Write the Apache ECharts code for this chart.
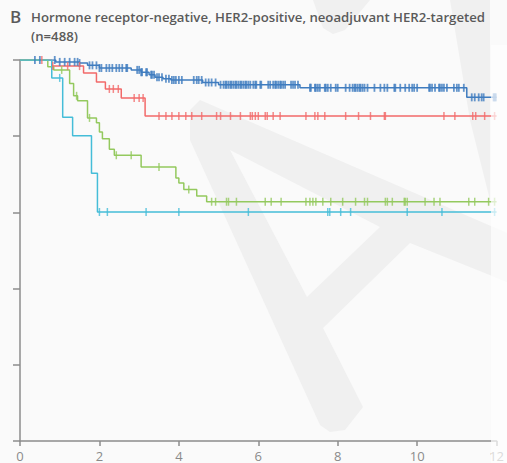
<!DOCTYPE html>
<html><head><meta charset="utf-8">
<script src="https://cdn.jsdelivr.net/npm/echarts/dist/echarts.min.js"></script>
<style>html,body{margin:0;padding:0;background:#fafafa}#c{width:507px;height:463px}</style>
</head><body><div id="c"></div>
<script>
// ---- data ----
const xTickLabels = ['0','2','4','6','8','10','12'];
const panelLetter = 'B';
const titleLine1 = 'Hormone receptor-negative, HER2-positive, neoadjuvant HER2-targeted';
const titleLine2 = '(n=488)';

// Kaplan-Meier steps [time (years), survival %]
const blueSteps = [[0,100],[0.9,99.5],[1.5,99.2],[1.7,98.6],[2.0,97.9],[2.8,97.4],[3.05,96.8],[3.25,96.1],[3.4,95.5],[3.6,95.1],[3.8,94.75],[4.6,94.1],[5.0,93.5],[7.05,92.7],[11.25,90.2],[12,90.2]];
const redSteps = [[0,100],[0.8,98.4],[1.6,96.6],[1.925,94.2],[2.15,92.4],[2.55,90.0],[3.15,85.3],[12,85.3]];
const greenSteps = [[0,100],[0.7,98.2],[0.85,97.4],[1.25,93.8],[1.35,90.6],[1.45,89.3],[1.7,84.8],[1.925,83.5],[2.0,81.1],[2.075,79.3],[2.25,76.6],[2.375,75.0],[3.05,71.9],[3.925,69.0],[4.0,67.7],[4.125,66.0],[4.45,64.3],[4.7,62.8],[12,62.8]];
const cyanSteps = [[0,100],[0.8,95.3],[1.075,85.0],[1.325,80.1],[1.8,70.3],[1.95,60.1],[12,60.1]];

// censoring times (years)
const blueCensor = [0.375,0.5,0.875,1.0,1.125,1.25,1.375,1.45,1.5,1.75,1.825,1.925,2.0,2.05,2.175,2.25,2.325,2.425,2.5,2.575,2.675,2.7,2.95,3.0,3.05,3.075,3.175,3.2,3.3,3.325,3.375,3.45,3.5,3.575,3.675,3.75,3.825,3.875,3.925,4.0,4.075,4.375,4.45,4.5,4.575,4.675,4.75,4.825,4.925,5.05,5.125,5.175,5.2,5.25,5.3,5.325,5.375,5.425,5.45,5.5,5.55,5.575,5.625,5.675,5.7,5.75,5.8,5.875,5.925,5.95,6.05,6.075,6.25,6.3,6.375,6.425,6.45,6.5,6.55,6.575,6.625,6.675,6.825,6.875,6.925,7.0,7.3,7.325,7.425,7.45,7.5,7.55,7.675,7.7,7.75,7.825,7.95,8.0,8.2,8.3,8.375,8.425,8.45,8.5,8.55,8.575,8.625,8.675,8.75,8.925,9.075,9.175,9.25,9.425,9.45,9.575,9.7,9.8,9.875,9.925,10.0,10.3,10.325,10.375,10.45,10.55,10.575,10.625,10.675,10.75,10.925,11.0,11.05,11.175,11.375,11.45,11.55,11.625,11.675,11.925,11.95,11.98];
const redCensor = [0.55,0.825,1.2,1.5,2.25,2.35,2.475,2.875,3.0,3.1,3.5,3.675,3.825,4.0,4.175,4.325,4.575,4.95,5.05,5.3,5.55,5.8,5.85,5.925,6.0,6.175,6.225,6.375,6.55,7.2,7.425,7.5,7.675,8.2,8.525,8.825,9.175,9.2,10.675,10.95,11.4,11.475,11.7,11.95];
const greenCensor = [1.05,1.425,1.75,2.425,2.8,3.5,4.25,4.825,4.925,5.2,5.25,5.45,6.175,6.325,6.575,7.2,7.3,7.375,7.45,7.625,7.825,8.125,8.45,8.675,8.75,9.2,9.25,9.375,9.675,9.7,9.75,10.2,10.425,10.575,11.3,11.45,11.8,11.95];
const cyanCensor = [1.0,2.0,2.2,3.175,4.0,5.75,7.75,7.8,8.075,8.325,9.75,10.625,11.95];

// ---- build ----
function stepAt(steps, t){ let v = steps[0][1]; for (const s of steps){ if (s[0] <= t) v = s[1]; else break; } return v; }
const groups = [
  {steps: blueSteps, cens: blueCensor, color: '#3f7cbf', w: 1.8},
  {steps: redSteps, cens: redCensor, color: '#f26a6a', w: 1.5},
  {steps: greenSteps, cens: greenCensor, color: '#94c95e', w: 1.5},
  {steps: cyanSteps, cens: cyanCensor, color: '#45bdd8', w: 1.5}
];
const series = [];
groups.forEach(g => {
  series.push({type:'line', step:'end', data:g.steps, showSymbol:false, silent:true,
    lineStyle:{color:g.color, width:1.5}, itemStyle:{color:g.color}, z:3});
  series.push({type:'scatter', data:g.cens.map(t => [t, stepAt(g.steps, t)]), symbol:'rect',
    symbolSize:[g.w, 8], itemStyle:{color:g.color}, silent:true, z:4});
});

const wm = '#f0f0f0', bg = '#fafafa';
const chart = echarts.init(document.getElementById('c'), null, {renderer:'svg'});
chart.setOption({
  backgroundColor: bg,
  animation: false,
  title: [
    {text: panelLetter, left: 10, top: 8, padding: 0, textStyle:{fontFamily:'Open Sans', fontSize:17, fontWeight:600, color:'#5a5a5a'}},
    {text: titleLine1 + '\n' + titleLine2, left: 31, top: 7, padding: 0, textStyle:{fontFamily:'Open Sans', fontSize:13.2, fontWeight:600, color:'#5a5a5a', lineHeight:19}}
  ],
  graphic: [
    {type:'polygon', z:-10, shape:{points:[[200,100],[507,233],[507,282],[410,243],[323,328],[363,407],[345,430],[330,432],[320,425],[190,140],[190,110]]}, style:{fill:wm}},
    {type:'polygon', z:-9, shape:{points:[[230,150],[380,227],[307,297]]}, style:{fill:bg}},
    {type:'polygon', z:-10, shape:{points:[[313,0],[370,0],[345,30],[333,34],[323,28]]}, style:{fill:wm}},
    {type:'polygon', z:-10, shape:{points:[[450,0],[490,0],[490,200],[470,120]]}, style:{fill:wm}},
    {type:'rect', z:100, shape:{x:491, y:45, width:16, height:418}, style:{fill:'rgba(253,253,253,0.7)'}}
  ],
  grid: {left:20, right:7, top:60, bottom:22, containLabel:false},
  xAxis: {type:'value', min:0, max:12, interval:2,
    axisLine:{lineStyle:{color:'#8c8c8c', width:1.5}},
    axisTick:{length:5, lineStyle:{color:'#8c8c8c', width:1.5}},
    axisLabel:{color:'#8a8a8a', fontSize:13, fontFamily:'Open Sans', margin:8,
      formatter: v => xTickLabels[Math.round(v/2)]},
    splitLine:{show:false}},
  yAxis: {type:'value', min:0, max:100, interval:20,
    axisLine:{show:true, lineStyle:{color:'#8c8c8c', width:1.5}},
    axisTick:{show:true, length:7, lineStyle:{color:'#8c8c8c', width:1.5}},
    axisLabel:{show:false}, splitLine:{show:false}},
  series: series
});
</script></body></html>
